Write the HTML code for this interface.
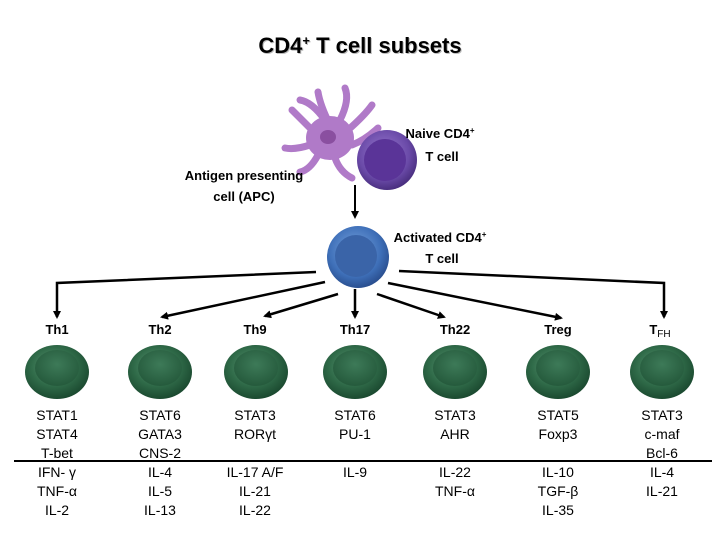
<!DOCTYPE html>
<html><head><meta charset="utf-8"><style>
body{margin:0;background:#fff;}
svg text{font-family:"Liberation Sans",Arial,sans-serif;}
</style></head><body>
<svg width="720" height="540" viewBox="0 0 720 540" xmlns="http://www.w3.org/2000/svg">
<defs>
<radialGradient id="g" cx="45%" cy="40%" r="60%"><stop offset="0" stop-color="#5f9a78"/><stop offset="0.6" stop-color="#2f6a48"/><stop offset="1" stop-color="#1b4a30"/></radialGradient>
<radialGradient id="gi" cx="50%" cy="40%" r="60%"><stop offset="0" stop-color="#3d7a58"/><stop offset="1" stop-color="#255a3c"/></radialGradient>
<radialGradient id="b" cx="45%" cy="40%" r="60%"><stop offset="0" stop-color="#7aa6e0"/><stop offset="0.7" stop-color="#3e6fb8"/><stop offset="1" stop-color="#2a4f90"/></radialGradient>
<radialGradient id="p" cx="45%" cy="40%" r="60%"><stop offset="0" stop-color="#9a7ad0"/><stop offset="0.7" stop-color="#6a4aa8"/><stop offset="1" stop-color="#4a2f80"/></radialGradient>
<marker id="a" markerWidth="8" markerHeight="8" refX="6" refY="4" orient="auto" markerUnits="userSpaceOnUse"><path d="M0,0 L8,4 L0,8 z" fill="#000"/></marker>
</defs>
<text x="361" y="54" font-size="22" font-weight="bold" text-anchor="middle" fill="#bbb">CD4<tspan font-size="13" dy="-8">+</tspan><tspan dy="8"> T cell subsets</tspan></text>
<text x="360" y="53" font-size="22" font-weight="bold" text-anchor="middle">CD4<tspan font-size="13" dy="-8">+</tspan><tspan dy="8"> T cell subsets</tspan></text>
<g fill="#b07ac8" stroke="#b07ac8" stroke-linecap="round">
<ellipse cx="330" cy="138" rx="24" ry="22" stroke="none"/>
<g stroke-width="7" fill="none">
<path d="M330,125 Q320,105 318,92"/><path d="M340,120 Q350,100 345,88"/><path d="M348,130 Q365,115 372,105"/>
<path d="M312,130 Q300,118 292,110"/><path d="M310,145 Q295,150 285,148"/><path d="M318,155 Q310,170 300,172"/>
<path d="M352,145 Q365,140 378,128"/><path d="M335,158 Q340,172 352,178"/><path d="M325,120 Q312,102 300,100"/>
</g></g>
<ellipse cx="328" cy="137" rx="8" ry="7" fill="#8a4fa0"/>
<circle cx="387" cy="160" r="30" fill="url(#p)"/>
<circle cx="385" cy="160" r="21" fill="#5a3498"/>
<text font-size="13" font-weight="bold" text-anchor="middle"><tspan x="440" y="138">Naive CD4<tspan font-size="8" dy="-5">+</tspan></tspan><tspan x="442" y="161">T cell</tspan></text>
<text font-size="13" font-weight="bold" text-anchor="middle"><tspan x="244" y="180">Antigen presenting</tspan><tspan x="244" y="201">cell (APC)</tspan></text>
<line x1="355" y1="185" x2="355" y2="217" stroke="#000" stroke-width="2" marker-end="url(#a)"/>
<circle cx="358" cy="257" r="31" fill="url(#b)"/>
<circle cx="356" cy="256" r="21" fill="#3a64a8"/>
<text font-size="13" font-weight="bold" text-anchor="middle"><tspan x="440" y="242">Activated CD4<tspan font-size="8" dy="-5">+</tspan></tspan><tspan x="442" y="263">T cell</tspan></text>
<g stroke="#000" stroke-width="2.5" fill="none">
<polyline points="316,272 57,283 57,317" marker-end="url(#a)"/>
<line x1="325" y1="282" x2="162" y2="317" marker-end="url(#a)"/>
<line x1="338" y1="294" x2="265" y2="316" marker-end="url(#a)"/>
<line x1="355" y1="289" x2="355" y2="317" marker-end="url(#a)"/>
<line x1="377" y1="294" x2="444" y2="317" marker-end="url(#a)"/>
<line x1="388" y1="283" x2="561" y2="318" marker-end="url(#a)"/>
<polyline points="399,271 664,283 664,317" marker-end="url(#a)"/>
</g>
<line x1="14" y1="461" x2="712" y2="461" stroke="#000" stroke-width="2"/>
<g font-size="13" font-weight="bold" text-anchor="middle">
<text x="57" y="334">Th1</text><text x="160" y="334">Th2</text><text x="255" y="334">Th9</text><text x="355" y="334">Th17</text><text x="455" y="334">Th22</text><text x="558" y="334">Treg</text><text x="660" y="334">T<tspan font-size="10" font-weight="normal" dy="3">FH</tspan></text>
</g>
<g>
<ellipse cx="57" cy="372" rx="32" ry="27" fill="url(#g)"/><ellipse cx="57" cy="368" rx="22" ry="18" fill="url(#gi)"/>
<ellipse cx="160" cy="372" rx="32" ry="27" fill="url(#g)"/><ellipse cx="160" cy="368" rx="22" ry="18" fill="url(#gi)"/>
<ellipse cx="256" cy="372" rx="32" ry="27" fill="url(#g)"/><ellipse cx="256" cy="368" rx="22" ry="18" fill="url(#gi)"/>
<ellipse cx="355" cy="372" rx="32" ry="27" fill="url(#g)"/><ellipse cx="355" cy="368" rx="22" ry="18" fill="url(#gi)"/>
<ellipse cx="455" cy="372" rx="32" ry="27" fill="url(#g)"/><ellipse cx="455" cy="368" rx="22" ry="18" fill="url(#gi)"/>
<ellipse cx="558" cy="372" rx="32" ry="27" fill="url(#g)"/><ellipse cx="558" cy="368" rx="22" ry="18" fill="url(#gi)"/>
<ellipse cx="662" cy="372" rx="32" ry="27" fill="url(#g)"/><ellipse cx="662" cy="368" rx="22" ry="18" fill="url(#gi)"/>
</g>
<g font-size="14" text-anchor="middle">
<text><tspan x="57" y="420">STAT1</tspan><tspan x="57" y="439">STAT4</tspan><tspan x="57" y="458">T-bet</tspan><tspan x="57" y="477">IFN- γ</tspan><tspan x="57" y="496">TNF-α</tspan><tspan x="57" y="515">IL-2</tspan></text>
<text><tspan x="160" y="420">STAT6</tspan><tspan x="160" y="439">GATA3</tspan><tspan x="160" y="458">CNS-2</tspan><tspan x="160" y="477">IL-4</tspan><tspan x="160" y="496">IL-5</tspan><tspan x="160" y="515">IL-13</tspan></text>
<text><tspan x="255" y="420">STAT3</tspan><tspan x="255" y="439">RORγt</tspan><tspan x="255" y="477">IL-17 A/F</tspan><tspan x="255" y="496">IL-21</tspan><tspan x="255" y="515">IL-22</tspan></text>
<text><tspan x="355" y="420">STAT6</tspan><tspan x="355" y="439">PU-1</tspan><tspan x="355" y="477">IL-9</tspan></text>
<text><tspan x="455" y="420">STAT3</tspan><tspan x="455" y="439">AHR</tspan><tspan x="455" y="477">IL-22</tspan><tspan x="455" y="496">TNF-α</tspan></text>
<text><tspan x="558" y="420">STAT5</tspan><tspan x="558" y="439">Foxp3</tspan><tspan x="558" y="477">IL-10</tspan><tspan x="558" y="496">TGF-β</tspan><tspan x="558" y="515">IL-35</tspan></text>
<text><tspan x="662" y="420">STAT3</tspan><tspan x="662" y="439">c-maf</tspan><tspan x="662" y="458">Bcl-6</tspan><tspan x="662" y="477">IL-4</tspan><tspan x="662" y="496">IL-21</tspan></text>
</g>
</svg>
</body></html>
